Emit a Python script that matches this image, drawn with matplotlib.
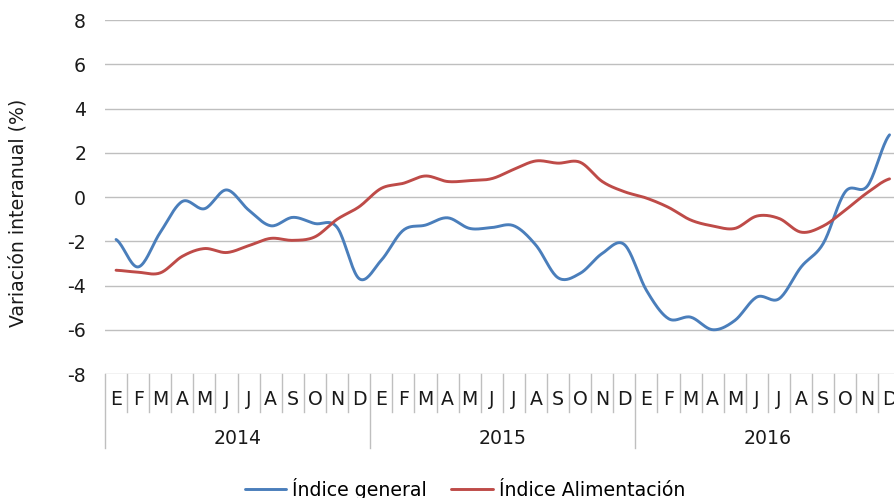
import numpy as np
import matplotlib.pyplot as plt
import matplotlib.transforms as mtransforms

plt.rcParams["axes.unicode_minus"] = False

# monthly year-on-year variation (%)
meses = ["E", "F", "M", "A", "M", "J", "J", "A", "S", "O", "N", "D"]
anios = ["2014", "2015", "2016"]

indice_general = [
    -1.92, -3.16, -1.60, -0.20, -0.53, 0.32, -0.59, -1.30, -0.92, -1.20, -1.37, -3.69,
    -2.86, -1.50, -1.27, -0.94, -1.42, -1.38, -1.30, -2.18, -3.65, -3.45, -2.55, -2.15,
    -4.22, -5.50, -5.43, -6.00, -5.58, -4.52, -4.60, -3.16, -2.10, 0.24, 0.50, 2.81,
]
indice_alimentacion = [
    -3.31, -3.40, -3.43, -2.68, -2.33, -2.51, -2.20, -1.87, -1.96, -1.80, -1.01, -0.44,
    0.39, 0.62, 0.95, 0.70, 0.74, 0.83, 1.25, 1.63, 1.53, 1.57, 0.70, 0.24,
    -0.05, -0.47, -1.04, -1.31, -1.42, -0.86, -0.97, -1.59, -1.31, -0.59, 0.20, 0.82,
]

AZUL = "#4A7EBB"
ROJO = "#BE4B48"
GRIS = "#BFBFBF"
TXT = "#1a1a1a"
FS = 13.6


def suavizar(y, n=20):
    # Catmull-Rom curve through the points, like spreadsheet smoothed lines
    y = np.asarray(y, dtype=float)
    x = np.arange(len(y), dtype=float)
    p = np.concatenate([[y[0]], y, [y[-1]]])
    xs, ys = [], []
    t = np.linspace(0, 1, n, endpoint=False)
    for i in range(len(y) - 1):
        p0, p1, p2, p3 = p[i], p[i + 1], p[i + 2], p[i + 3]
        c1 = p1 + (p2 - p0) / 6
        c2 = p2 - (p3 - p1) / 6
        b = (1 - t) ** 3 * p1 + 3 * (1 - t) ** 2 * t * c1 + 3 * (1 - t) * t ** 2 * c2 + t ** 3 * p2
        xs.append(x[i] + t)
        ys.append(b)
    xs.append([x[-1]])
    ys.append([y[-1]])
    return np.concatenate(xs), np.concatenate(ys)


fig = plt.figure(figsize=(8.95, 4.98), dpi=100)
ax = fig.add_axes([105 / 895, 124 / 498, 795.6 / 895, 354 / 498])

n = len(indice_general)
xg, yg = suavizar(indice_general)
xa, ya = suavizar(indice_alimentacion)
ax.plot(xg, yg, color=AZUL, lw=2.1, label="Índice general", solid_capstyle="round")
ax.plot(xa, ya, color=ROJO, lw=2.1, label="Índice Alimentación", solid_capstyle="round")

ax.set_xlim(-0.5, n - 0.5)
ax.set_ylim(-8, 8)
ax.set_yticks(np.arange(-8, 9, 2))
ax.yaxis.grid(True, color=GRIS, lw=1.0)
ax.set_axisbelow(True)
ax.tick_params(axis="y", length=0, pad=13.5, labelsize=FS, labelcolor=TXT)
for s in ax.spines.values():
    s.set_visible(False)
ax.set_xticks([])

ax.set_ylabel("Variación interanual (%)", fontsize=FS, color=TXT)
ax.yaxis.set_label_coords(-0.097, 0.455)

# two-level category axis: months and years
tr = mtransforms.blended_transform_factory(ax.transData, ax.transAxes)
px = 1 / 354
for k in range(n + 1):
    b = k - 0.5
    largo = 74 if k % 12 == 0 else 38
    ax.plot([b, b], [0, -largo * px], color=GRIS, lw=1.0, transform=tr, clip_on=False)
for k in range(n):
    ax.text(k, -25 * px, meses[k % 12], transform=tr, ha="center", va="center",
            fontsize=FS, color=TXT)
for j, a in enumerate(anios):
    ax.text(j * 12 + 5.5, -64 * px, a, transform=tr, ha="center", va="center",
            fontsize=FS, color=TXT)

fig.legend(loc="center", bbox_to_anchor=(465 / 895, 9 / 498), ncol=2, frameon=False,
           fontsize=FS, handlelength=2.2, handletextpad=0.3, columnspacing=1.3)

fig.savefig("out.png", dpi=100)
